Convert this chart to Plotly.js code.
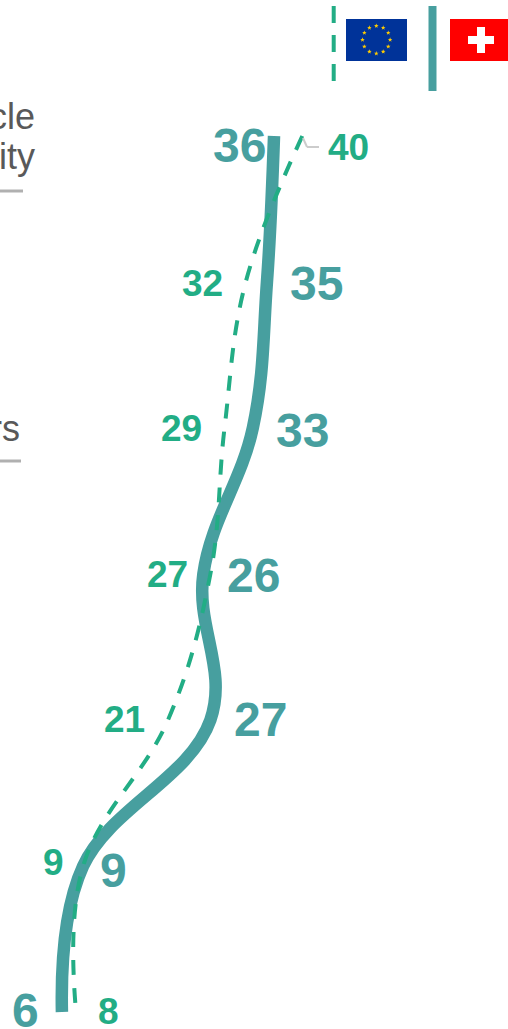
<!DOCTYPE html>
<html><head><meta charset="utf-8">
<script src="https://cdn.plot.ly/plotly-3.0.1.min.js"></script>
<style>html,body{margin:0;padding:0;background:#fff;overflow:hidden}</style>
</head><body><div id="chart" style="width:508px;height:1029px"></div>
<script>
// Row order, top to bottom
const rows = [0, 1, 2, 3, 4, 5, 6];
const swissValues = [36, 35, 33, 26, 27, 9, 6];
const euValues = [40, 32, 29, 27, 21, 9, 8];
const swissLabelOffsets = [[-35, 9], [50, 1], [50, 2], [50, 1], [50, -1], [30, 4], [-36, -2]];
const euLabelOffsets = [[46, 11], [-43, 1], [-43, 0], [-43, 0], [-43, -1], [-30, -4], [32, -1]];
const W = 508, H = 1029;
const swissColor = '#479f9f', euColor = '#22ad85', greyText = '#595959', rule = '#b0b0b0';
const px = 7.07, x0 = 19.5, top0 = 136, step = 146;

function stars() {
  let s = '';
  for (let i = 0; i < 12; i++) {
    const a = i * Math.PI / 6, cx = 30.3 + 13.8 * Math.sin(a), cy = 20.7 - 13.8 * Math.cos(a);
    let pts = [];
    for (let k = 0; k < 10; k++) {
      const r = k % 2 ? 1 : 2.4, b = k * Math.PI / 5;
      pts.push((cx + r * Math.sin(b)).toFixed(2) + ',' + (cy - r * Math.cos(b)).toFixed(2));
    }
    s += `<polygon points="${pts.join(' ')}" fill="#ffcc00"/>`;
  }
  return s;
}
const euFlag = 'data:image/svg+xml;utf8,' + encodeURIComponent(
  `<svg xmlns="http://www.w3.org/2000/svg" width="61" height="42" viewBox="0 0 61 42"><rect width="61" height="42" fill="#003399"/>${stars()}</svg>`);

const num = (text, x, y, off, size, color) => ({
  text: String(text), x, y, xref: 'x', yref: 'y', showarrow: false,
  xshift: off[0], yshift: -off[1], xanchor: 'center', yanchor: 'middle',
  font: { family: 'Liberation Sans', size, color, weight: 700 }
});
const label = (text, right, yPx) => ({
  text, xref: 'paper', yref: 'paper', x: right / W, y: 1 - yPx / H, showarrow: false,
  xanchor: 'right', yanchor: 'middle', xshift: 0, borderpad: 0,
  font: { family: 'Liberation Sans', size: 36, color: greyText }
});
const pxRect = (x1, y1, x2, y2, fill) => ({
  type: 'rect', xref: 'paper', yref: 'paper', x0: x1 / W, x1: x2 / W, y0: 1 - y2 / H, y1: 1 - y1 / H,
  fillcolor: fill, line: { width: 0 }, layer: 'above'
});
const pxLine = (x1, y1, x2, y2, color, width, dash) => ({
  type: 'line', xref: 'paper', yref: 'paper', x0: x1 / W, x1: x2 / W, y0: 1 - y1 / H, y1: 1 - y2 / H,
  line: { color, width, dash: dash || 'solid' }
});

const traces = [
  { x: swissValues, y: rows, mode: 'lines', hoverinfo: 'skip', showlegend: false,
    line: { color: swissColor, width: 12.5, shape: 'spline', smoothing: 1.1 } },
  { x: euValues, y: rows, mode: 'lines', hoverinfo: 'skip', showlegend: false,
    line: { color: euColor, width: 4, shape: 'spline', smoothing: 1.1, dash: '15px,13px' } }
];

const layout = {
  width: W, height: H, margin: { l: 0, r: 0, t: 0, b: 0 }, autosize: false,
  paper_bgcolor: '#fff', plot_bgcolor: '#fff', showlegend: false,
  xaxis: { range: [-x0 / px, (W - x0) / px], visible: false, fixedrange: true },
  yaxis: { range: [(H - top0) / step, -top0 / step], visible: false, fixedrange: true },
  annotations: [
    ...swissValues.map((v, i) => num(v, v, rows[i], swissLabelOffsets[i], 48, swissColor)),
    ...euValues.map((v, i) => num(v, v, rows[i], euLabelOffsets[i], 37, euColor)),
    label('cle', 36, 117), label('ity', 36, 156), label('rs', 21, 428)
  ],
  shapes: [
    pxLine(0, 191, 23, 191, rule, 3),
    pxLine(0, 461, 21, 461, rule, 3),
    pxLine(303, 138, 307, 147, '#cccccc', 2),
    pxLine(307, 147, 319, 147, '#cccccc', 2),
    pxLine(333.7, 6, 333.7, 23, euColor, 4),
    pxLine(333.7, 35, 333.7, 52, euColor, 4),
    pxLine(333.7, 64, 333.7, 81, euColor, 4),
    pxLine(432.5, 6, 432.5, 91, swissColor, 8),
    pxRect(450, 19, 508, 61, '#ff0000'),
    pxRect(477, 27, 485, 53, '#ffffff'),
    pxRect(468, 36, 494, 44, '#ffffff')
  ],
  images: [{ source: euFlag, xref: 'paper', yref: 'paper', x: 346 / W, y: 1 - 19 / H,
    sizex: 61 / W, sizey: 42 / H, sizing: 'stretch', xanchor: 'left', yanchor: 'top', layer: 'above' }]
};
Plotly.newPlot('chart', traces, layout, { displayModeBar: false, staticPlot: true });
</script></body></html>
